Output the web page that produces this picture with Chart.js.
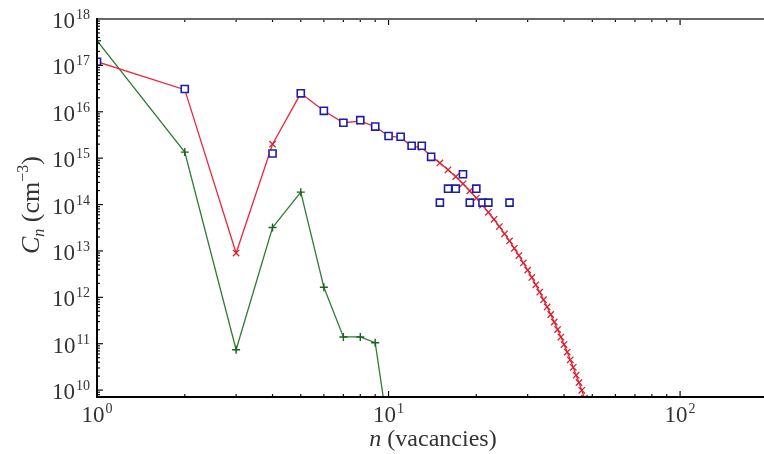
<!DOCTYPE html>
<html>
<head>
<meta charset="utf-8">
<script src="https://cdn.jsdelivr.net/npm/chart.js@4/dist/chart.umd.min.js"></script>
<style>
  html, body { margin: 0; padding: 0; background: #fff; }
</style>
</head>
<body>
<canvas id="clusterChart" width="764" height="454"></canvas>
<script>
/* global Chart:false */

// cluster size n (vacancies) and concentration C_n (cm^-3)
var redN = [1, 2, 3, 4, 5, 6, 7, 8, 9, 10, 11, 12, 13, 14, 15, 16, 17, 18, 19, 20,
  21, 22, 23, 24, 25, 26, 27, 28, 29, 30, 31, 32, 33, 34, 35, 36, 37, 38, 39, 40,
  41, 42, 43, 44, 45, 46, 47, 48];
var redC = [1.2e17, 3.0e16, 9e12, 2.0e15, 2.5e16, 1.05e16, 5.8e15, 6.3e15, 4.8e15, 3.0e15,
  2.8e15, 1.8e15, 1.7e15, 1.1e15, 7.9e14, 5.6e14, 4.0e14, 2.8e14, 1.97e14, 1.38e14,
  9.7e13, 6.8e13, 4.8e13, 3.35e13, 2.34e13, 1.64e13, 1.14e13, 7.96e12, 5.5e12, 3.86e12,
  2.68e12, 1.86e12, 1.29e12, 8.9e11, 6.2e11, 4.26e11, 2.94e11, 2.02e11, 1.39e11, 9.6e10,
  6.6e10, 4.5e10, 3.1e10, 2.1e10, 1.45e10, 9.9e9, 6.7e9, 4.6e9];

var greenN = [1, 2, 3, 4, 5, 6, 7, 8, 9, 10];
var greenC = [3.4e17, 1.35e15, 7.4e10, 3.2e13, 1.85e14, 1.65e12, 1.4e11, 1.4e11, 1.05e11, 1.2e9];

var blueN = [1, 2, 4, 5, 6, 7, 8, 9, 10, 11, 12, 13, 14, 15, 16, 17, 18, 19, 20, 21, 22, 26];
var blueC = [1.2e17, 3.1e16, 1.26e15, 2.5e16, 1.05e16, 5.8e15, 6.6e15, 4.8e15, 3.0e15, 2.9e15,
  1.85e15, 1.85e15, 1.07e15, 1.1e14, 2.2e14, 2.2e14, 4.5e14, 1.1e14, 2.2e14, 1.1e14, 1.1e14, 1.1e14];

// axis decades that carry a label
var xTickExp = [0, 1, 2];
var yTickExp = [10, 11, 12, 13, 14, 15, 16, 17, 18];

function toPoints(xs, ys) {
  return xs.map(function (x, i) {
    return { x: x, y: ys[i] };
  });
}

var SERIF = "'Liberation Serif', 'DejaVu Serif', serif";
var TEXT = "#333";

function drawPow(ctx, exp, x, y, align) {
  ctx.font = "23px " + SERIF;
  var w1 = ctx.measureText("10").width;
  ctx.font = "14px " + SERIF;
  var w2 = ctx.measureText(String(exp)).width;
  var start = align === "right" ? x - w1 - w2 - 1 : x - (w1 + w2 + 1) / 2;
  ctx.font = "23px " + SERIF;
  ctx.fillText("10", start, y);
  ctx.font = "14px " + SERIF;
  ctx.fillText(String(exp), start + w1 + 1, y - 9);
}

// frame, inward ticks and labels, drawn from the chart's own scales
var framePlugin = {
  id: "frame",
  afterDraw: function (chart) {
    var ctx = chart.ctx;
    var area = chart.chartArea;
    var xs = chart.scales.x;
    var ys = chart.scales.y;
    ctx.save();

    // tick marks
    ctx.strokeStyle = "#111";
    ctx.lineWidth = 1.2;
    var d, k, v, p, len;
    for (d = 0; d <= 2; d++) {
      for (k = 1; k <= 9; k++) {
        v = k * Math.pow(10, d);
        if (v < xs.min || v > xs.max) continue;
        p = xs.getPixelForValue(v);
        len = k === 1 ? 6 : 3;
        ctx.beginPath();
        ctx.moveTo(p, area.bottom);
        ctx.lineTo(p, area.bottom - len);
        ctx.moveTo(p, area.top);
        ctx.lineTo(p, area.top + len);
        ctx.stroke();
      }
    }
    for (d = 9; d <= 18; d++) {
      for (k = 1; k <= 9; k++) {
        v = k * Math.pow(10, d);
        if (v < ys.min || v > ys.max) continue;
        p = ys.getPixelForValue(v);
        len = k === 1 ? 6 : 3;
        ctx.beginPath();
        ctx.moveTo(area.left, p);
        ctx.lineTo(area.left + len, p);
        ctx.stroke();
      }
    }

    // axis lines
    ctx.lineWidth = 2;
    ctx.strokeStyle = "#666";
    ctx.beginPath();
    ctx.moveTo(area.left, area.top);
    ctx.lineTo(area.right, area.top);
    ctx.stroke();
    ctx.strokeStyle = "#000";
    ctx.beginPath();
    ctx.moveTo(area.left, area.top - 1);
    ctx.lineTo(area.left, area.bottom);
    ctx.lineTo(area.right, area.bottom);
    ctx.stroke();

    // tick labels
    ctx.fillStyle = TEXT;
    ctx.textBaseline = "alphabetic";
    ctx.textAlign = "left";
    yTickExp.forEach(function (e) {
      drawPow(ctx, e, 90, ys.getPixelForValue(Math.pow(10, e)) + 9, "right");
    });
    xTickExp.forEach(function (e) {
      drawPow(ctx, e, xs.getPixelForValue(Math.pow(10, e)), area.bottom + 25, "center");
    });

    // x title
    ctx.font = "italic 24px " + SERIF;
    var wn = ctx.measureText("n").width;
    ctx.font = "24px " + SERIF;
    var wr = ctx.measureText(" (vacancies)").width;
    var sx = 433 - (wn + wr) / 2;
    ctx.font = "italic 24px " + SERIF;
    ctx.fillText("n", sx, 446);
    ctx.font = "24px " + SERIF;
    ctx.fillText(" (vacancies)", sx + wn, 446);

    // y title, rotated
    ctx.translate(39, 205);
    ctx.rotate(-Math.PI / 2);
    var parts = [
      { t: "C", f: "italic 26px ", dy: 0 },
      { t: "n", f: "italic 16px ", dy: 5 },
      { t: " (cm", f: "26px ", dy: 0 },
      { t: "\u22123", f: "16px ", dy: -11 },
      { t: ")", f: "26px ", dy: 0 },
    ];
    var total = 0;
    parts.forEach(function (q) {
      ctx.font = q.f + SERIF;
      q.w = ctx.measureText(q.t).width;
      total += q.w;
    });
    var cx = -total / 2;
    parts.forEach(function (q) {
      ctx.font = q.f + SERIF;
      ctx.fillText(q.t, cx, q.dy);
      cx += q.w;
    });

    ctx.restore();
  },
};

var clusterChart = new Chart(document.getElementById("clusterChart").getContext("2d"), {
  type: "line",
  data: {
    datasets: [
      {
        label: "simulation",
        data: toPoints(blueN, blueC),
        showLine: false,
        pointStyle: "rect",
        pointRadius: 5,
        pointBorderWidth: 1.6,
        borderColor: "#1f1fa6",
        backgroundColor: "#ffffff",
        pointHoverRadius: 5,
        clip: 0,
        order: 0,
      },
      {
        label: "model A",
        data: toPoints(redN, redC),
        borderColor: "#e8293d",
        backgroundColor: "#e8293d",
        borderWidth: 1.3,
        pointStyle: "crossRot",
        pointRadius: 4.5,
        pointBorderWidth: 1.3,
        pointBorderColor: "#d8202f",
        tension: 0,
        clip: 0,
        order: 1,
      },
      {
        label: "model B",
        data: toPoints(greenN, greenC),
        borderColor: "#2f7d33",
        backgroundColor: "#2f7d33",
        borderWidth: 1.3,
        pointStyle: "cross",
        pointRadius: 4,
        pointBorderWidth: 1.4,
        pointBorderColor: "#1f5f22",
        tension: 0,
        clip: 0,
        order: 2,
      },
    ],
  },
  options: {
    responsive: false,
    devicePixelRatio: 1,
    animation: false,
    layout: {
      autoPadding: false,
      padding: { left: 97, top: 19, right: 0, bottom: 57 },
    },
    plugins: {
      legend: { display: false },
      tooltip: { enabled: false },
    },
    scales: {
      x: {
        type: "logarithmic",
        min: 1,
        max: 194,
        grid: { display: false },
        border: { display: false },
        ticks: { display: false },
        afterFit: function (scale) {
          scale.height = 0;
        },
      },
      y: {
        type: "logarithmic",
        min: 7.1e9,
        max: 1e18,
        grid: { display: false },
        border: { display: false },
        ticks: { display: false },
        afterFit: function (scale) {
          scale.width = 0;
        },
      },
    },
  },
  plugins: [framePlugin],
});
</script>
</body>
</html>
